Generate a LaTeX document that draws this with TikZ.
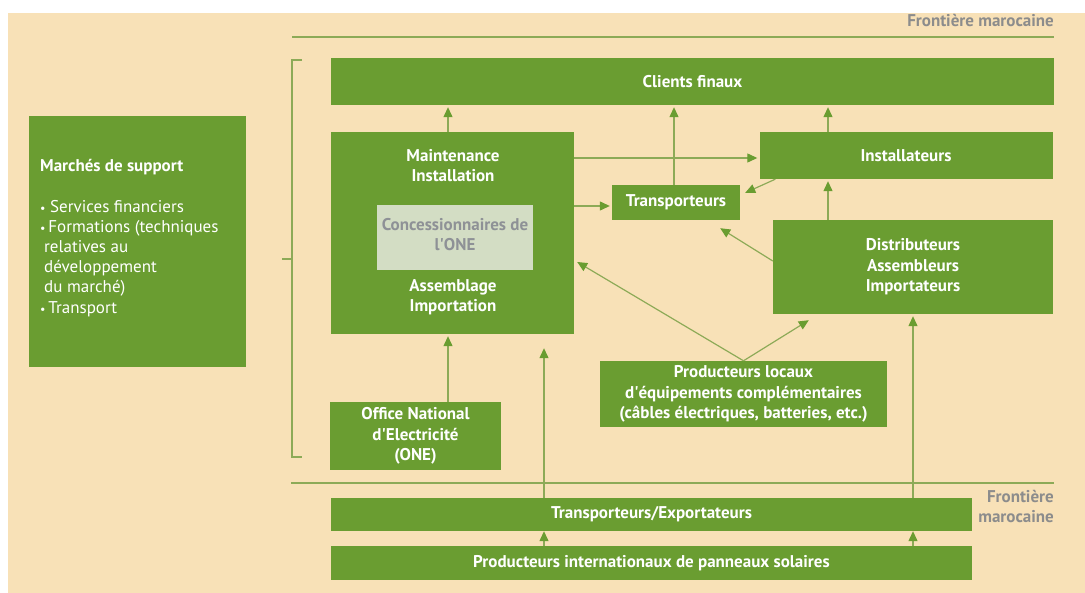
\documentclass[tikz,border=0pt]{standalone}
\usepackage{fontspec}
\setmainfont{PT Sans}
\usetikzlibrary{arrows.meta}
\definecolor{bg}{HTML}{F8E1B7}
\definecolor{grn}{HTML}{6A9D31}
\definecolor{ln}{HTML}{8DAA57}
\definecolor{gtxt}{HTML}{8C8C8C}
\definecolor{innerc}{HTML}{D3DDC4}
\definecolor{itxt}{HTML}{8E9196}
\newcommand{\bul}{{\fontsize{12}{12}\selectfont\textbullet}}
\newcommand{\apo}{\textquotesingle}
\begin{document}
\begin{tikzpicture}[x=1pt,y=-1pt,
  box/.style={fill=grn, draw=none, text=white, font=\bfseries\fontsize{17}{20.5}\selectfont, align=center, inner sep=0pt},
  lbl/.style={text=white, font=\bfseries\fontsize{17}{20}\selectfont, align=center, inner sep=0pt},
  conn/.style={draw=ln, line width=1.2pt, shorten >=2pt, -{Triangle[length=10pt,width=9pt,color=grn]}},
  rule/.style={draw=ln, line width=1.2pt},
  front/.style={text=gtxt, font=\bfseries\fontsize{17}{20}\selectfont, inner sep=0pt}]
\fill[white] (0,0) rectangle (1085,593);
\fill[bg] (8,13) rectangle (1085,593);
\useasboundingbox (0,0) rectangle (1085,593);

% frontier lines and bracket
\draw[rule] (292,37) -- (1054,37);
\draw[rule] (291,483) -- (1054,483);
\draw[rule] (302,60) -- (292,60) -- (292,457) -- (302,457);
\draw[rule] (282,259) -- (292,259);
\node[front, anchor=east] (f1) at (1054,21) {Frontière marocaine};
\node[front, anchor=east, align=right] (f2) at (1054,506) {Frontière\\marocaine};

% boxes
\node[box, minimum width=723pt, minimum height=47pt] (clients) at (692.5,81.5) {Clients finaux};
\node[box, minimum width=243pt, minimum height=202pt] (maint) at (452.5,233) {};
\node[fill=innerc, minimum width=156pt, minimum height=65pt, inner sep=0pt] (inner) at (455,237.5) {};
\node[text=itxt, font=\bfseries\fontsize{17}{20}\selectfont, align=center, inner sep=0pt] (innert) at (455,235) {Concessionnaires de\\l\apo ONE};
\node[lbl] (mtop) at (453,166) {Maintenance\\Installation};
\node[lbl] (mbot) at (453,297) {Assemblage\\Importation};
\node[box, minimum width=293pt, minimum height=47pt] (inst) at (906,155.5) {Installateurs};
\node[box, minimum width=128pt, minimum height=35pt] (trans) at (676,202.5) {Transporteurs};
\node[box, minimum width=280pt, minimum height=94pt] (dist) at (913,267) {Distributeurs\\Assembleurs\\Importateurs};
\node[box, minimum width=287pt, minimum height=66pt] (ploc) at (743.5,394) {Producteurs locaux\\d\apo équipements complémentaires\\(câbles électriques, batteries, etc.)};
\node[box, minimum width=171pt, minimum height=68pt] (one) at (415.5,436) {Office National\\d\apo Electricité\\(ONE)};
\node[box, minimum width=641pt, minimum height=33pt] (texp) at (651.5,514.5) {Transporteurs/Exportateurs};
\node[box, minimum width=641pt, minimum height=34pt] (pint) at (651.5,563) {Producteurs internationaux de panneaux solaires};
\node[box, minimum width=217pt, minimum height=251pt] (march) at (137.5,241.5) {};
\node[text=white, anchor=north west, align=left, inner sep=0pt, font=\fontsize{17}{20}\selectfont] (marcht) at (40,159)
  {\textbf{Marchés de support}\\[21pt]
   \bul\ Services financiers\\
   \bul\,Formations (techniques\\
   \hspace{4pt}relatives au\\
   \hspace{4pt}développement\\
   \hspace{4pt}du marché)\\[1pt]
   \bul\,Transport};

% column / row coordinates
\coordinate (xA) at (448,0);
\coordinate (xB) at (674,0);
\coordinate (xC) at (828,0);
\coordinate (xD) at (544,0);
\coordinate (xE) at (913,0);
\coordinate (yF) at (0,158);
\coordinate (yG) at (0,206);

% connectors
\draw[conn] (maint.north -| xA) -- (clients.south -| xA);
\draw[conn] (trans.north -| xB) -- (clients.south -| xB);
\draw[conn] (inst.north -| xC) -- (clients.south -| xC);
\draw[conn] (maint.east |- yF) -- (inst.west |- yF);
\draw[conn] (maint.east |- yG) -- (trans.west |- yG);
\draw[conn, shorten >=0pt] ([xshift=16pt]inst.south west) -- ([xshift=5pt,yshift=-8pt]trans.north east);
\draw[conn] (dist.north -| xC) -- (inst.south -| xC);
\draw[conn, shorten >=0pt] ([yshift=6pt]dist.west) -- ([xshift=-20pt,yshift=-8pt]trans.south east);
\draw[conn, shorten >=0pt] (ploc.north) -- ([xshift=3pt,yshift=-29pt]maint.east);
\draw[conn, shorten >=0pt] (ploc.north) -- ([xshift=36pt,yshift=-6pt]dist.south west);
\draw[conn] (one.north -| xA) -- (maint.south -| xA);
\draw[conn, shorten >=14pt] (texp.north -| xD) -- (maint.south -| xD);
\draw[conn] (texp.north -| xE) -- (dist.south -| xE);
\draw[conn, shorten >=0pt] (pint.north -| xD) -- (texp.south -| xD);
\draw[conn, shorten >=0pt] (pint.north -| xE) -- (texp.south -| xE);
\end{tikzpicture}
\end{document}
